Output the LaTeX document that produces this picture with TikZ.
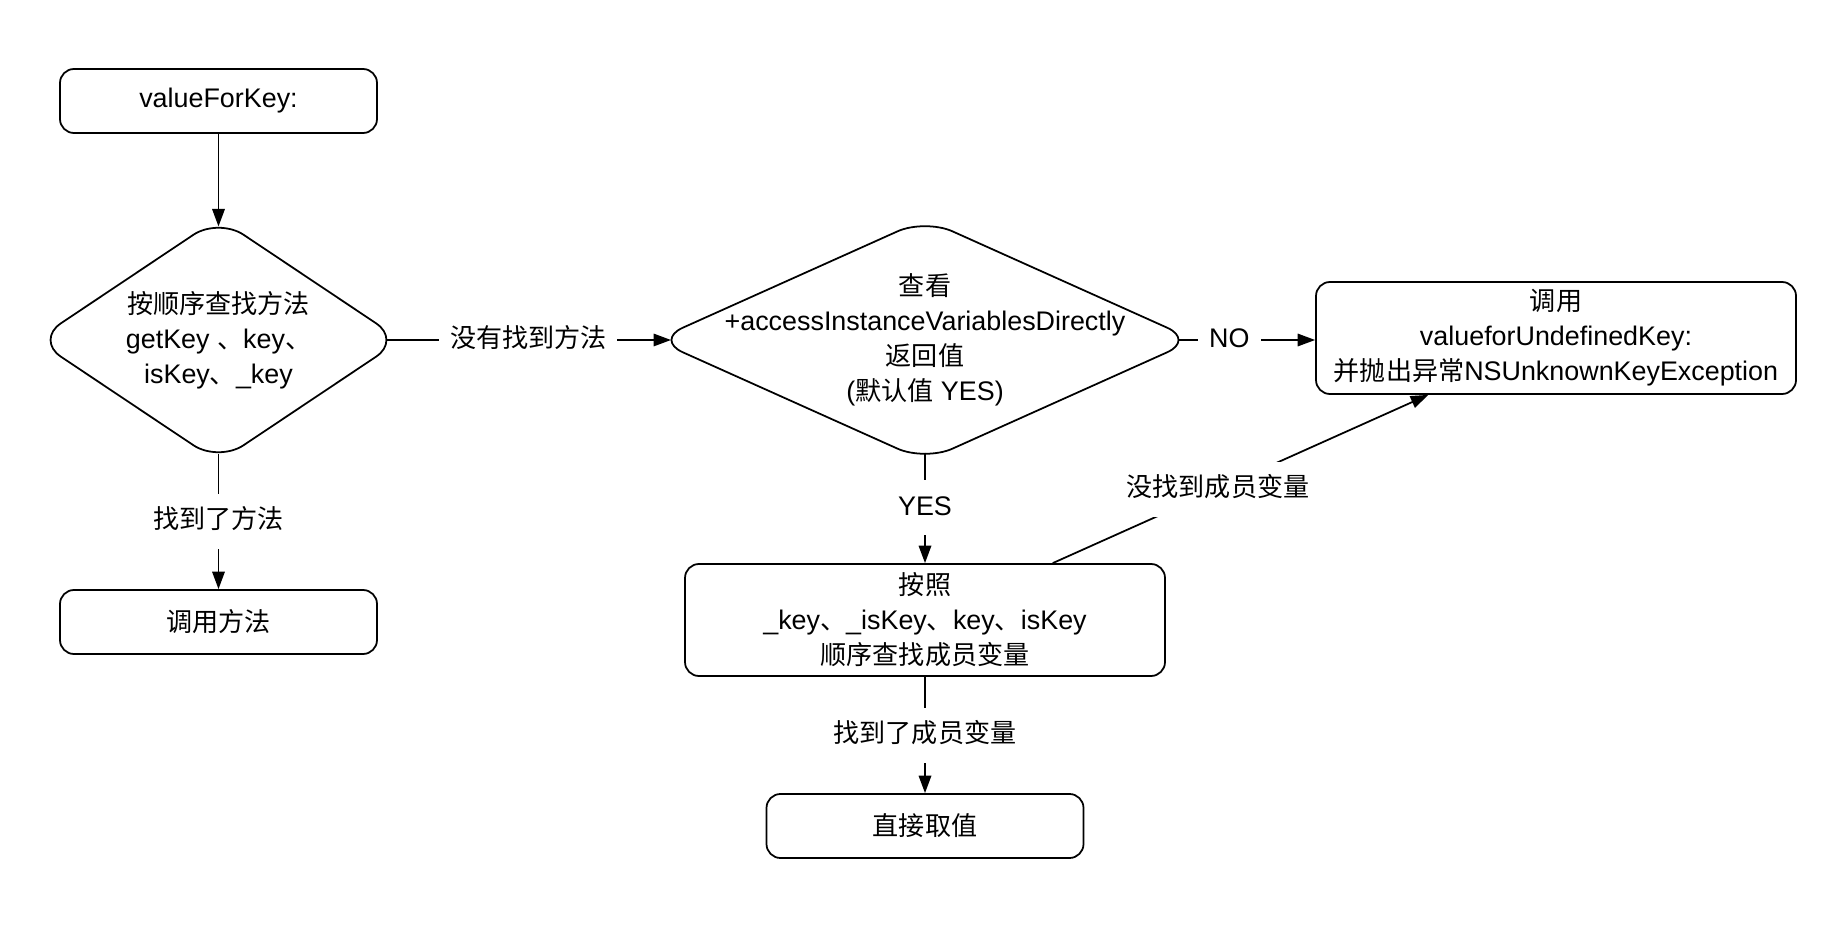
\documentclass[tikz,border=0pt]{standalone}
\usepackage{fontspec}
\setmainfont{Liberation Sans}
\newfontfamily\cjk[Scale=0.97]{Noto Sans CJK SC}
\usetikzlibrary{shapes.geometric, arrows.meta, positioning}

\begin{document}
\begin{tikzpicture}[
  font=\fontsize{15.3}{19.9}\selectfont,
  box/.style={rectangle, draw, line width=1pt, rounded corners=0.28cm, minimum width=6.34cm, minimum height=1.28cm, align=center, inner sep=0pt},
  bigbox/.style={box, minimum width=9.6cm, minimum height=2.24cm},
  dia/.style={diamond, draw, line width=1pt, rounded corners=0.6cm, inner sep=0pt, outer xsep=-0.22cm, outer ysep=-0.12cm},
  txt/.style={align=center},
  lbl/.style={fill=white, inner xsep=0.22cm, inner ysep=0.3cm, text height=0.4cm, text depth=0.1cm},
  arr/.style={-{Triangle[length=0.35cm, width=0.25cm]}, line width=1pt}
]
\useasboundingbox (0,0) rectangle (36.48,-18.8);

% Method lookup
\node[box] (start) at (4.37,-2.02) {valueForKey:};
\node[dia, minimum width=7.12cm, minimum height=4.78cm] (getter) at (4.37,-6.8) {};
\node[txt] (gettertxt) at (getter) {{\cjk 按顺序查找方法}\\getKey {\cjk 、}key{\cjk 、}\\isKey{\cjk 、}\_key};
\node[box] (callmeth) at (4.37,-12.44) {\cjk 调用方法};

% Instance variables
\node[dia, minimum width=10.6cm, minimum height=4.74cm] (access) at (18.5,-6.8) {};
\node[txt] (accesstxt) at (access) {{\cjk 查看}\\+accessInstanceVariablesDirectly\\{\cjk 返回值}\\({\cjk 默认值} YES)};
\node[bigbox] (ivars) at (18.5,-12.4) {{\cjk 按照}\\\_key{\cjk 、}\_isKey{\cjk 、}key{\cjk 、}isKey\\{\cjk 顺序查找成员变量}};
\node[box] (direct) at (18.5,-16.52) {\cjk 直接取值};

% Undefined key
\node[bigbox] (undef) at (31.12,-6.76) {{\cjk 调用}\\valueforUndefinedKey:\\{\cjk 并抛出异常}NSUnknownKeyException};

% Connections
\draw[arr] (start) -- (getter);
\draw[arr] (getter) -- node[lbl] {\cjk 找到了方法} (callmeth);
\draw[arr] (getter) -- node[lbl] {\cjk 没有找到方法} (access);
\draw[arr] (access) -- node[lbl, pos=0.37] {NO} (access -| undef.west);
\draw[arr] (access) -- node[lbl] {YES} (ivars);
\draw[arr] (ivars) -- node[lbl] {\cjk 找到了成员变量} (direct);
\draw[arr] (ivars.24) -- node[lbl, pos=0.44] {\cjk 没找到成员变量} (undef.204);
\end{tikzpicture}
\end{document}
